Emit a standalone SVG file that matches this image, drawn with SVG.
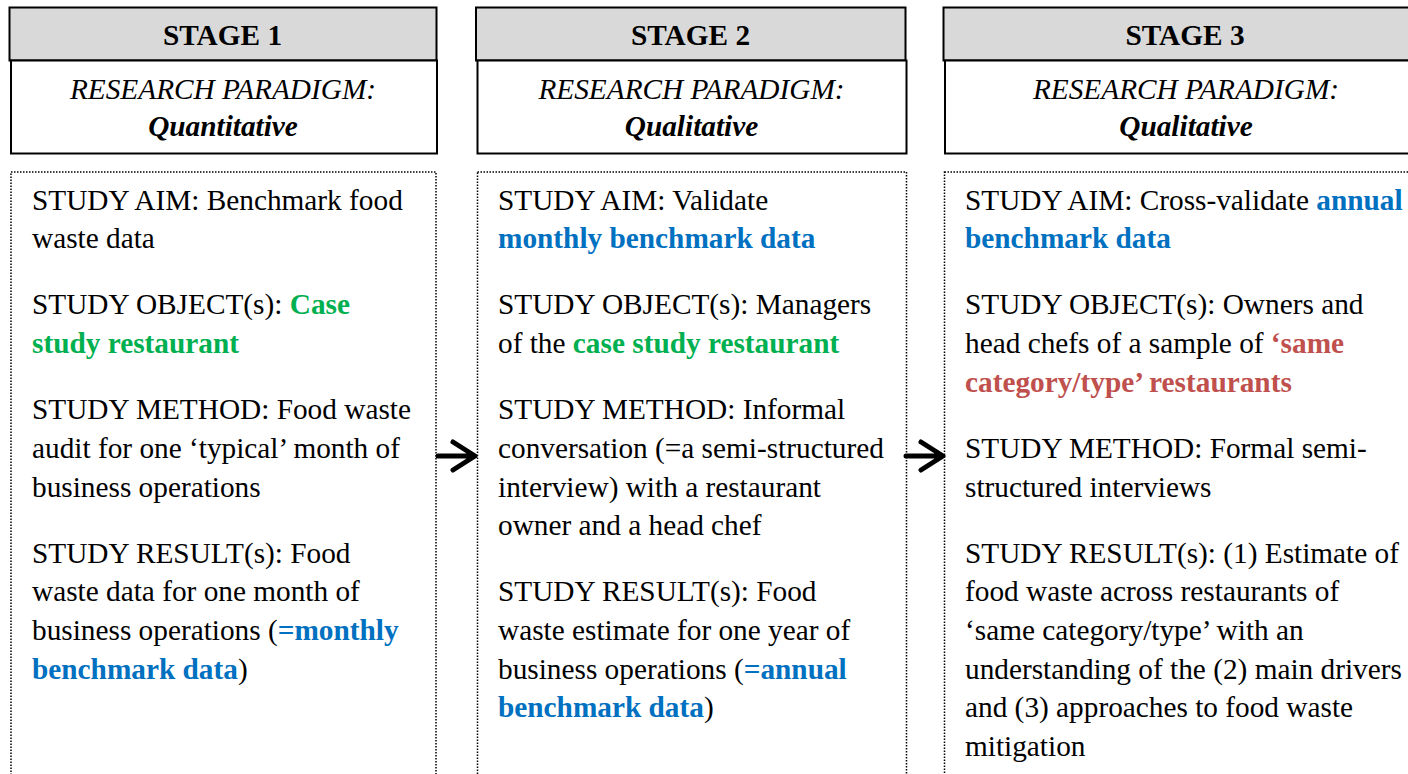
<svg xmlns="http://www.w3.org/2000/svg" width="1408" height="774" viewBox="0 0 1408 774">
<style>
text{font-family:"Liberation Serif","Times New Roman",serif;font-size:29.3px;fill:#000}
.hd{font-weight:bold;text-anchor:middle}
.it{font-style:italic;text-anchor:middle}
.bi{font-style:italic;font-weight:bold;text-anchor:middle}
.b{font-weight:bold;fill:#0070C0}
.g{font-weight:bold;fill:#00B050}
.r{font-weight:bold;fill:#C0504D}
.gray{fill:#D9D9D9;stroke:#000;stroke-width:2}
.white{fill:#fff;stroke:#000;stroke-width:2}
.dot{fill:none;stroke:#000;stroke-width:1.5;stroke-dasharray:1.5 1.5}
.arr{fill:none;stroke:#000;stroke-width:5;stroke-linecap:round;stroke-linejoin:round}
</style>
<rect width="1408" height="774" fill="#fff"/>
<g id="stage1">
<rect class="gray" x="9.5" y="7.5" width="427" height="53"/>
<rect class="white" x="11" y="60.5" width="426" height="93"/>
<text class="hd" x="222.5" y="44.5">STAGE 1</text>
<text class="it" x="223" y="98.5">RESEARCH PARADIGM:</text>
<text class="bi" x="223" y="136">Quantitative</text>
<rect class="dot" x="11" y="172" width="425" height="640"/>
<text x="32" y="209.5">STUDY AIM: Benchmark food</text>
<text x="32" y="248.1">waste data</text>
<text x="32" y="314.4">STUDY OBJECT(s): <tspan class="g">Case</tspan></text>
<text x="32" y="353" class="g">study restaurant</text>
<text x="32" y="419.3">STUDY METHOD: Food waste</text>
<text x="32" y="457.9">audit for one ‘typical’ month of</text>
<text x="32" y="496.5">business operations</text>
<text x="32" y="562.8">STUDY RESULT(s): Food</text>
<text x="32" y="601.4">waste data for one month of</text>
<text x="32" y="640">business operations (<tspan class="b">=monthly</tspan></text>
<text x="32" y="678.6"><tspan class="b">benchmark data</tspan>)</text>
</g>
<g id="stage2">
<rect class="gray" x="476" y="7.5" width="429.5" height="53"/>
<rect class="white" x="477.5" y="60.5" width="429" height="93"/>
<text class="hd" x="690.5" y="44.5">STAGE 2</text>
<text class="it" x="691.5" y="98.5">RESEARCH PARADIGM:</text>
<text class="bi" x="691.5" y="136">Qualitative</text>
<rect class="dot" x="477.5" y="172" width="429" height="640"/>
<text x="498" y="209.5">STUDY AIM: Validate</text>
<text x="498" y="248.1" class="b">monthly benchmark data</text>
<text x="498" y="314.4">STUDY OBJECT(s): Managers</text>
<text x="498" y="353">of the <tspan class="g">case study restaurant</tspan></text>
<text x="498" y="419.3">STUDY METHOD: Informal</text>
<text x="498" y="457.9">conversation (=a semi-structured</text>
<text x="498" y="496.5">interview) with a restaurant</text>
<text x="498" y="535.1">owner and a head chef</text>
<text x="498" y="601.4">STUDY RESULT(s): Food</text>
<text x="498" y="640">waste estimate for one year of</text>
<text x="498" y="678.6">business operations (<tspan class="b">=annual</tspan></text>
<text x="498" y="717.2"><tspan class="b">benchmark data</tspan>)</text>
</g>
<g id="stage3">
<rect class="gray" x="943.5" y="7.5" width="484" height="53"/>
<rect class="white" x="945" y="60.5" width="484" height="93"/>
<text class="hd" x="1185" y="44.5">STAGE 3</text>
<text class="it" x="1186" y="98.5">RESEARCH PARADIGM:</text>
<text class="bi" x="1186" y="136">Qualitative</text>
<rect class="dot" x="944.5" y="172" width="484" height="640"/>
<text x="965" y="209.5">STUDY AIM: Cross-validate <tspan class="b">annual</tspan></text>
<text x="965" y="248.1" class="b">benchmark data</text>
<text x="965" y="314.4">STUDY OBJECT(s): Owners and</text>
<text x="965" y="353">head chefs of a sample of <tspan class="r">‘same</tspan></text>
<text x="965" y="391.6" class="r">category/type’ restaurants</text>
<text x="965" y="457.9">STUDY METHOD: Formal semi-</text>
<text x="965" y="496.5">structured interviews</text>
<text x="965" y="562.8">STUDY RESULT(s): (1) Estimate of</text>
<text x="965" y="601.4">food waste across restaurants of</text>
<text x="965" y="640">‘same category/type’ with an</text>
<text x="965" y="678.6">understanding of the (2) main drivers</text>
<text x="965" y="717.2">and (3) approaches to food waste</text>
<text x="965" y="755.8">mitigation</text>
</g>
<g id="connectors">
<path class="arr" d="M438 456 H474 M453 442 L475 456 L453 470"/>
<path class="arr" d="M906 456 H942 M921 442 L943 456 L921 470"/>
</g>
</svg>
